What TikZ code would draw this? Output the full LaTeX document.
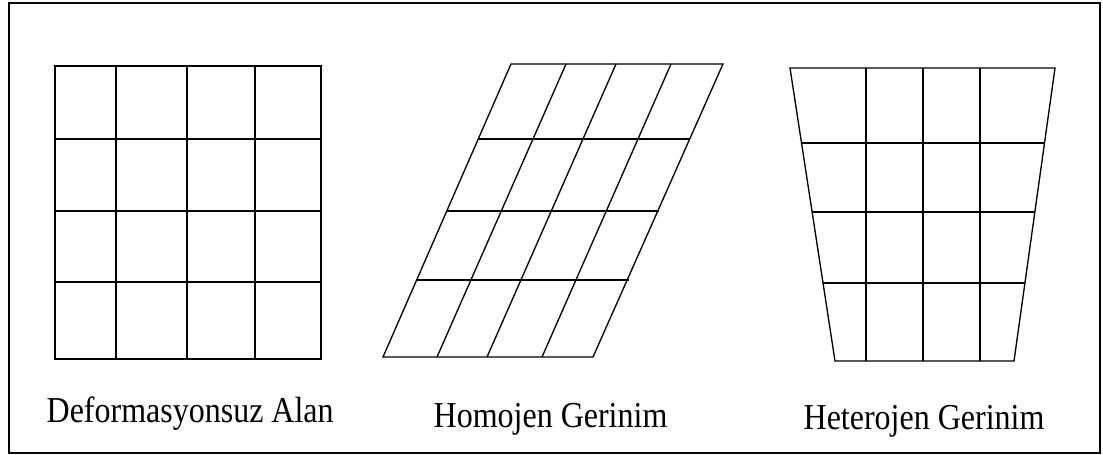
\documentclass[tikz,border=0pt]{standalone}
\usepackage{fontspec}
\setmainfont{Liberation Serif}
\begin{document}
\begin{tikzpicture}[x=0.75pt,y=-0.75pt,line width=1pt,
    label/.style={anchor=base west,inner sep=0pt,font=\fontsize{24}{24}\selectfont,yscale=1.14,transform shape}]
            \useasboundingbox (0,0) rectangle (1103,454);
            \draw[line width=1.5pt] (8.5,3) rectangle (1100,452.5);
            % undeformed field
            \draw (55,66) rectangle (321,359);
            \draw (116,66) -- (116,359);
            \draw (187,66) -- (187,359);
            \draw (255,66) -- (255,359);
            \draw (55,139) -- (321,139);
            \draw (55,211) -- (321,211);
            \draw (55,282) -- (321,282);
            % homogeneous strain
            \draw (511,64) -- (723,64) -- (593,357) -- (383,357) -- cycle;
            \draw (566,64) -- (437,357);
            \draw (616,64) -- (487,357);
            \draw (671,64) -- (542,357);
            \draw (478.2,139) -- (690.2,139);
            \draw (446.8,211) -- (658.8,211);
            \draw (416.6,280) -- (628.6,280);
            % heterogeneous strain
            \draw (790,68) -- (1055,68) -- (1014,361) -- (835,361) -- cycle;
            \draw (866,68) -- (866,361);
            \draw (923,68) -- (923,361);
            \draw (980,68) -- (980,361);
            \draw (801.5,143) -- (1044.5,143);
            \draw (812.1,212) -- (1034.8,212);
            \draw (823,283) -- (1024.9,283);
            \node[label] (undeformed) at (46,422) {Deformasyonsuz Alan};
            \node[label] (homogeneous) at (433,427) {Homojen Gerinim};
            \node[label] (heterogeneous) at (803,429) {Heterojen Gerinim};
        \end{tikzpicture}
\end{document}
